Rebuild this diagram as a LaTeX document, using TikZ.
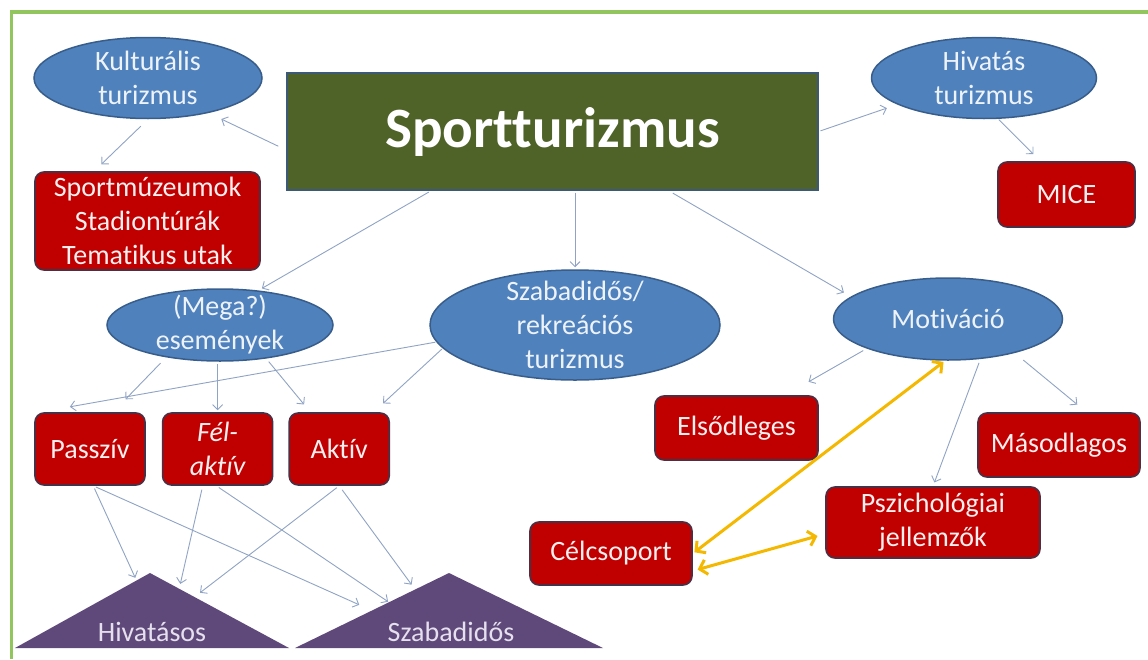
\documentclass[tikz,border=0pt]{standalone}
\usepackage{fontspec}
\setmainfont{Carlito}[Ligatures=NoCommon]
\usetikzlibrary{arrows.meta,positioning,calc,shapes.geometric}
\definecolor{framegreen}{HTML}{92C55E}
\definecolor{ovalfill}{HTML}{4F81BD}
\definecolor{ovalborder}{HTML}{385D8A}
\definecolor{ovaltext}{HTML}{EEF3FA}
\definecolor{boxfill}{HTML}{C00000}
\definecolor{boxborder}{HTML}{4A3045}
\definecolor{boxtext}{HTML}{FBEFEF}
\definecolor{titlefill}{HTML}{4F6228}
\definecolor{titleborder}{HTML}{3C5A78}
\definecolor{trifill}{HTML}{5F497A}
\definecolor{tritext}{HTML}{E6E0EE}
\definecolor{linkgray}{HTML}{8FA3C4}
\definecolor{linkyellow}{HTML}{F4B800}

\begin{document}
\begin{tikzpicture}[
    x=1pt, y=-1pt,
    every node/.style={font=\fontsize{28}{34}\selectfont},
    oval/.style={
        ellipse, draw=ovalborder, fill=ovalfill, text=ovaltext,
        line width=1.5pt, inner sep=-20pt, align=center
    },
    redbox/.style={
        draw=boxborder, fill=boxfill, text=boxtext, rounded corners=9pt,
        line width=1.6pt, inner sep=0pt, align=center
    },
    titlebox/.style={
        draw=titleborder, fill=titlefill, text=white,
        line width=1.2pt, inner sep=0pt,
        font=\fontsize{57}{68}\selectfont\bfseries
    },
    trishape/.style={fill=trifill},
    trilabel/.style={text=tritext, inner sep=0pt},
    link/.style={
        -{Straight Barb[length=5pt,width=10pt]}, linkgray, line width=0.9pt,
        shorten >=6pt, shorten <=3pt
    },
    duallink/.style={
        {Straight Barb[length=7pt,width=15pt]}-{Straight Barb[length=7pt,width=15pt]},
        linkyellow, line width=3pt, shorten >=2pt, shorten <=2pt
    },
]
\useasboundingbox (0,0) rectangle (1148,659);

% ===== Frame =====
\draw[framegreen, line width=3.5pt] (1148,12) -- (11.5,12) -- (11.5,659);

% ===== Top row =====
\node[titlebox, minimum width=531pt, minimum height=117pt] (sport) at (552.5,131.5) {Sportturizmus};

\node[oval, minimum width=228pt, minimum height=81pt] (kult) at (148,78) {Kulturális\\turizmus};
\node[oval, minimum width=225pt, minimum height=81pt] (hiv) at (984,78) {Hivatás\\turizmus};

\node[redbox, minimum width=225pt, minimum height=98pt] (muz) at (147.5,221) {Sportmúzeumok\\Stadiontúrák\\Tematikus utak};
\node[redbox, minimum width=137pt, minimum height=65pt] (mice) at (1066.5,194.5) {MICE};

% ===== Middle row =====
\node[oval, minimum width=226pt, minimum height=72pt] (mega) at (220,325) {(Mega?)\\események};
\node[oval, minimum width=290pt, minimum height=110pt] (szab) at (575,325) {Szabadidős/\\rekreációs\\turizmus};
\node[oval, minimum width=229pt, minimum height=82pt] (motiv) at (948,319) {Motiváció};

% ===== Activity boxes =====
\node[redbox, minimum width=110pt, minimum height=72pt] (passziv) at (90,449) {Passzív};
\node[redbox, minimum width=110pt, minimum height=72pt, right=16pt of passziv] (felaktiv) {\itshape Fél-\\\itshape aktív};
\node[redbox, minimum width=100pt, minimum height=72pt, right=15pt of felaktiv] (aktiv) {Aktív};

% ===== Motivation boxes =====
\node[redbox, minimum width=163pt, minimum height=64pt] (elso) at (736.5,428) {Elsődleges};
\node[redbox, minimum width=162pt, minimum height=64pt] (maso) at (1059,445) {Másodlagos};
\node[redbox, minimum width=214pt, minimum height=71pt] (pszich) at (933,522.5) {Pszichológiai\\jellemzők};
\node[redbox, minimum width=162pt, minimum height=63pt] (celcs) at (611,553.5) {Célcsoport};

% ===== Triangles =====
\coordinate (hivleft) at (15,648);
\coordinate (hivtop) at (150,573);
\coordinate (hivright) at (289,648);
\coordinate (szleft) at (295,648);
\coordinate (sztop) at (449,573);
\coordinate (szright) at (603,648);
\fill[trishape] (hivleft) -- (hivtop) -- (hivright) -- cycle;
\fill[trishape] (szleft) -- (sztop) -- (szright) -- cycle;
\node[trilabel] (hivatasos) at (152,632) {Hivatásos};
\node[trilabel] (szabadidos) at (451,632) {Szabadidős};

% ===== Arrows from Sportturizmus =====
\draw[link, shorten <=9pt, shorten >=14pt] (sport.184.5) -- (kult.330);
\draw[link, shorten <=2pt, shorten >=11pt] (sport.east) -- (hiv.197);
\draw[link, shorten >=4pt] (sport.206.5) -- (mega.42);
\draw[link, shorten <=2pt, shorten >=2pt] (sport.south -| szab.north) -- (szab.north);
\draw[link, shorten <=5pt, shorten >=8pt] (sport.333.5) -- (motiv.167.6);

% ===== Second level =====
\draw[link, shorten <=10pt, shorten >=10pt] (kult.south) -- (muz.137.5);
\draw[link, shorten <=1pt, shorten >=10pt] (hiv.289) -- (mice.128);

\draw[link, shorten <=8pt, shorten >=18pt] (mega.211) -- (passziv.58);
\draw[link, shorten <=2pt, shorten >=2pt] (mega.south -| felaktiv.north) -- (felaktiv.north);
\draw[link, shorten <=4pt, shorten >=10pt] (mega.324) -- (aktiv.128);
\draw[link, shorten <=1pt, shorten >=31pt] (szab.187) -- (passziv.144);
\draw[link, shorten <=1pt, shorten >=13pt] (szab.190) -- (aktiv.47);

\draw[link, shorten <=4pt, shorten >=27pt] (motiv.200) -- (elso.34);
\draw[link, shorten <=11pt, shorten >=12pt] (motiv.333) -- (maso.50);
\draw[link, shorten <=4pt, shorten >=4pt] (motiv.309) -- (pszich.north);

% ===== Activity -> triangles =====
\draw[link, shorten >=3pt] (passziv.275) -- ($(hivleft)!0.9!(hivtop)$);
\draw[link, shorten >=14pt] (passziv.275) -- ($(szleft)!0.5!(sztop)$);
\draw[link, shorten <=4pt, shorten >=5pt] (felaktiv.248) -- ($(hivtop)!0.21!(hivright)$);
\draw[link, shorten >=1pt] (felaktiv.268) -- ($(szleft)!0.61!(sztop)$);
\draw[link, shorten >=7pt] (aktiv.south) -- ($(hivtop)!0.32!(hivright)$);
\draw[link, shorten <=5pt, shorten >=6pt] (aktiv.south) -- ($(szleft)!0.78!(sztop)$);

% ===== Yellow links =====
\draw[duallink] (celcs.east) -- (motiv.266);
\draw[duallink, shorten <=5pt, shorten >=8pt] (celcs.348) -- (pszich.186);

\end{tikzpicture}
\end{document}
